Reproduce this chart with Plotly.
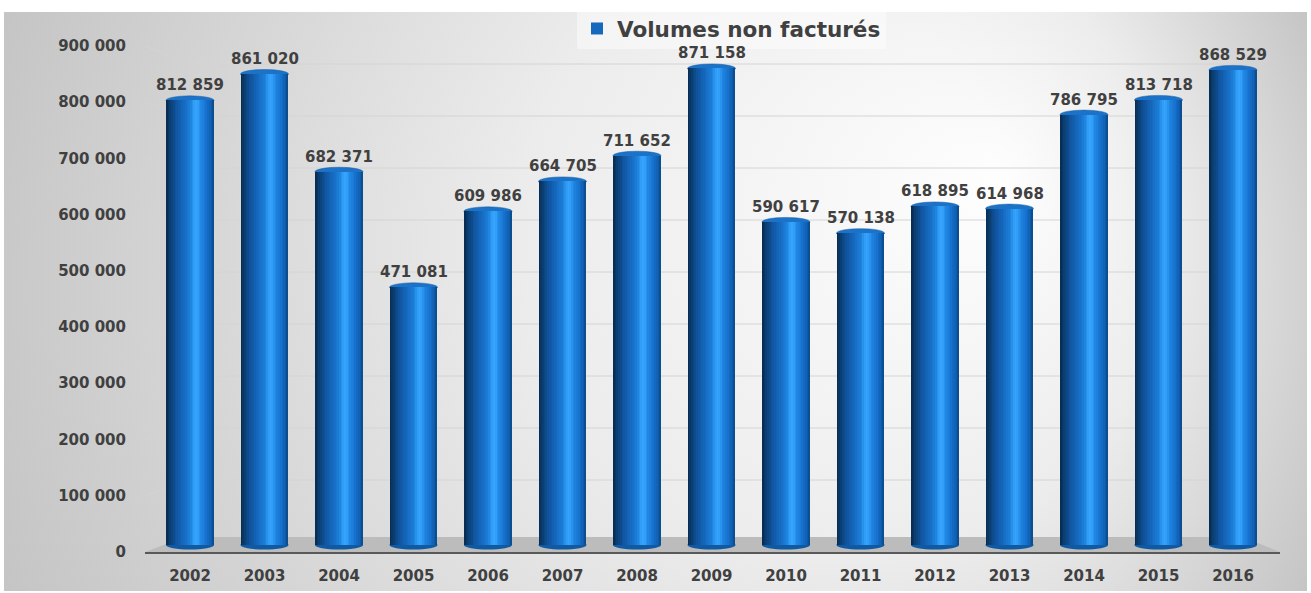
import base64
import plotly.graph_objects as go

# ---------------- data ----------------
years = ["2002", "2003", "2004", "2005", "2006", "2007", "2008", "2009",
         "2010", "2011", "2012", "2013", "2014", "2015", "2016"]
volumes = [812859, 861020, 682371, 471081, 609986, 664705, 711652, 871158,
           590617, 570138, 618895, 614968, 786795, 813718, 868529]
tick_values = [0, 100000, 200000, 300000, 400000, 500000, 600000, 700000, 800000, 900000]
tick_labels = ["0", "100 000", "200 000", "300 000", "400 000", "500 000",
               "600 000", "700 000", "800 000", "900 000"]
series_name = "Volumes non facturés"

# ---------------- geometry / style ----------------
W, H = 1311, 593
PL, PR, PT, PB = 145, 1280, 40, 552          # plot area in pixels
PW, PH = PR - PL, PB - PT

FONT = "DejaVu Sans"
TXT = "#404040"

# bar axis (front): 0 -> 545 px, 54.7 px / 100k
bar_k = 54.7 / 100000
bar_r0 = -(PB - 545) / bar_k
bar_r1 = bar_r0 + PH / bar_k
# tick-label axis: 0 -> 552 px, 56.2 px / 100k
lab_k = 56.2 / 100000
lab_zero = 551.8
lab_r0 = -(PB - lab_zero) / lab_k
lab_r1 = lab_r0 + PH / lab_k
# back wall grid: 0 -> 532 px, 52 px / 100k
grid_k = 52.0 / 100000
grid_zero = 532

bar_w = 0.644
x_r0 = -(190 - PL) / 74.5
x_r1 = x_r0 + PW / 74.5


def px_x(p):
    return (p - PL) / PW


def px_y(p):
    return (PB - p) / PH


# ---------------- background (gradient svg) ----------------
bg_x0, bg_y0, bg_x1, bg_y1 = 4, 12, 1307, 591
bw, bh = bg_x1 - bg_x0, bg_y1 - bg_y0
svg = (f"<svg xmlns='http://www.w3.org/2000/svg' width='{bw}' height='{bh}' viewBox='0 0 {bw} {bh}' "
       f"preserveAspectRatio='none'><defs><radialGradient id='g' gradientUnits='userSpaceOnUse' "
       f"cx='650' cy='290' r='720' fx='1000' fy='170'>"
       f"<stop offset='0' stop-color='#fefefe'/><stop offset='0.45' stop-color='#ececec'/>"
       f"<stop offset='1' stop-color='#c4c4c4'/></radialGradient></defs>"
       f"<rect width='{bw}' height='{bh}' fill='url(#g)'/></svg>")
svg_uri = "data:image/svg+xml;base64," + base64.b64encode(svg.encode()).decode()

# ---------------- cylinder colour ramp ----------------
stops = [(0.00, "#072a4e"), (0.08, "#0b3c6e"), (0.20, "#10539c"), (0.35, "#1567bc"),
         (0.50, "#1c7fd8"), (0.58, "#2e9bf4"), (0.64, "#38a6ff"), (0.72, "#2189e6"),
         (0.85, "#1570cc"), (0.95, "#0f5aa8"), (1.00, "#0b4786")]


def hex2rgb(h):
    h = h.lstrip("#")
    return tuple(int(h[i:i + 2], 16) for i in (0, 2, 4))


def ramp(t):
    for (a, ca), (b, cb) in zip(stops[:-1], stops[1:]):
        if a <= t <= b:
            f = (t - a) / (b - a) if b > a else 0
            ra, rb = hex2rgb(ca), hex2rgb(cb)
            return "rgb(%d,%d,%d)" % tuple(round(ra[i] + (rb[i] - ra[i]) * f) for i in range(3))
    return stops[-1][1]


fig = go.Figure()

# main series (legend entry + base colour)
fig.add_trace(go.Bar(
    x=years, y=volumes, name=series_name, marker=dict(color="#1668bd", line=dict(width=0)),
    width=bar_w, offset=-bar_w / 2, hoverinfo="x+y"))

N = 28
sw = bar_w / N
for j in range(N):
    wj = min(sw * 1.6, bar_w - j * sw)
    fig.add_trace(go.Bar(
        x=years, y=volumes, width=wj, offset=-bar_w / 2 + j * sw,
        marker=dict(color=ramp((j + 0.5) / N), line=dict(width=0)),
        showlegend=False, hoverinfo="skip"))

# invisible trace to anchor yaxis2 so its tick labels are drawn
fig.add_trace(go.Scatter(x=[years[0]], y=[0], yaxis="y2", mode="markers",
                         marker=dict(opacity=0), showlegend=False, hoverinfo="skip"))

# data labels (category index used for x on the category axis)
annotations = [dict(x=i, y=v, xref="x", yref="y", text=f"{v:,}".replace(",", " "),
                    showarrow=False, yanchor="bottom", yshift=4,
                    font=dict(family=FONT, size=15, color=TXT, weight="bold"))
               for i, v in enumerate(volumes)]

shapes = []
# back-wall gridlines with perspective connectors
for v in tick_values[1:]:
    ly = lab_zero - v * lab_k
    gy = grid_zero - v * grid_k
    shapes.append(dict(
        type="path", xref="paper", yref="paper",
        path=f"M {px_x(PL)},{px_y(ly)} L {px_x(190)},{px_y(gy)} L {px_x(1243)},{px_y(gy)}",
        line=dict(color="#d4d4d4", width=1), layer="below"))
# floor
shapes.append(dict(
    type="path", xref="paper", yref="paper",
    path=f"M {px_x(PL)},{px_y(552)} L {px_x(185)},{px_y(537)} L {px_x(1243)},{px_y(537)} "
         f"L {px_x(1280)},{px_y(552)} Z",
    fillcolor="#bcbcbc", line=dict(width=0), layer="below"))
# cylinder caps
hv = 4.5 / bar_k
for i, v in enumerate(volumes):
    shapes.append(dict(type="circle", xref="x", yref="y",
                       x0=i - bar_w / 2, x1=i + bar_w / 2, y0=v - hv, y1=v + hv,
                       fillcolor="#1b72c6", line=dict(color="#145da6", width=0.5), layer="below"))
    shapes.append(dict(type="circle", xref="x", yref="y",
                       x0=i - bar_w / 2, x1=i + bar_w / 2, y0=-hv, y1=hv,
                       fillcolor="#0f5aa2", line=dict(width=0), layer="below"))

fig.update_layout(
    width=W, height=H,
    margin=dict(l=PL, r=W - PR, t=PT, b=H - PB, pad=0, autoexpand=False),
    paper_bgcolor="white", plot_bgcolor="rgba(0,0,0,0)",
    barmode="overlay", bargap=0,
    showlegend=True,
    legend=dict(x=px_x(577), y=px_y(8), xanchor="left", yanchor="top",
                orientation="h", bgcolor="rgba(255,255,255,0.45)",
                font=dict(family=FONT, size=21.5, color=TXT, weight="bold"),
                itemwidth=30, tracegroupgap=0),
    images=[dict(source=svg_uri, xref="paper", yref="paper",
                 x=px_x(bg_x0), y=px_y(bg_y0), sizex=bw / PW, sizey=bh / PH,
                 xanchor="left", yanchor="top", sizing="stretch", layer="below")],
    shapes=shapes,
    annotations=annotations,
    xaxis=dict(type="category", range=[x_r0, x_r1], showgrid=False, zeroline=False,
               showline=True, linecolor="#595959", linewidth=2,
               ticks="", ticklabelstandoff=9,
               tickfont=dict(family=FONT, size=15, color=TXT, weight="bold")),
    yaxis=dict(range=[bar_r0, bar_r1], showgrid=False, zeroline=False,
               showticklabels=False, ticks=""),
    yaxis2=dict(range=[lab_r0, lab_r1], overlaying="y", side="left", showgrid=False,
                zeroline=False, tickmode="array", tickvals=tick_values, ticktext=tick_labels,
                ticks="", ticklabelstandoff=18,
                tickfont=dict(family=FONT, size=15, color=TXT, weight="bold")),
    hovermode="closest",
)

fig.write_html("out.html", config={"displayModeBar": False},
               post_script="document.body.style.margin='0';")
